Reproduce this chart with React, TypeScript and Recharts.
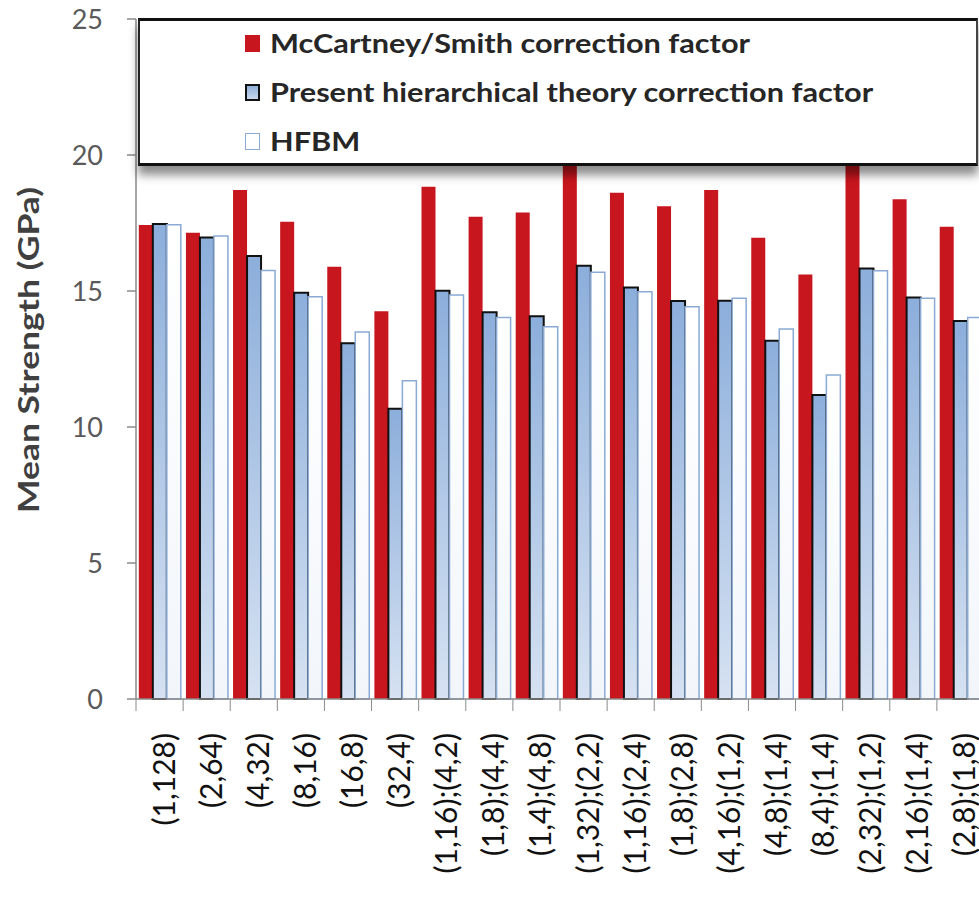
import React from "react";
import { Bar, BarChart, XAxis, YAxis } from "recharts";

// ---------------------------------------------------------------------------
// Data
// ---------------------------------------------------------------------------

const categories = [
  "(1,128)",
  "(2,64)",
  "(4,32)",
  "(8,16)",
  "(16,8)",
  "(32,4)",
  "(1,16);(4,2)",
  "(1,8);(4,4)",
  "(1,4);(4,8)",
  "(1,32);(2,2)",
  "(1,16);(2,4)",
  "(1,8);(2,8)",
  "(4,16);(1,2)",
  "(4,8);(1,4)",
  "(8,4);(1,4)",
  "(2,32);(1,2)",
  "(2,16);(1,4)",
  "(2,8);(1,8)",
];

const mccartney = [
  17.43, 17.14, 18.71, 17.55, 15.89, 14.26, 18.83, 17.73, 17.89, 20.3, 18.61,
  18.12, 18.71, 16.96, 15.61, 20.2, 18.37, 17.36,
];

const present = [
  17.46, 16.97, 16.29, 14.94, 13.08, 10.67, 15.01, 14.22, 14.07, 15.93, 15.13,
  14.63, 14.64, 13.17, 11.18, 15.83, 14.76, 13.9,
];

const hfbm = [
  17.44, 17.02, 15.75, 14.79, 13.49, 11.7, 14.85, 14.03, 13.69, 15.69, 14.97,
  14.42, 14.73, 13.6, 11.91, 15.74, 14.73, 14.03,
];

const yTicks = [0, 5, 10, 15, 20, 25];

const legendLabels = [
  "McCartney/Smith correction factor",
  "Present hierarchical theory correction factor",
  "HFBM",
];

const data = categories.map((c, i) => ({
  name: c,
  mccartney: mccartney[i],
  present: present[i],
  hfbm: hfbm[i],
}));

// ---------------------------------------------------------------------------
// Styling
// ---------------------------------------------------------------------------

const FONT = "Lato, 'Open Sans', sans-serif";
const RED = "#c8161e";
const AXIS = "#8a8a8a";
const BLUE_STROKE = "#8aaad4";

function CategoryTick(props: any) {
  const { x, y, payload } = props;
  const half = payload?.offset ?? 23.55;
  return (
    <g>
      <line x1={x - half} y1={y} x2={x - half} y2={y + 12} stroke={AXIS} strokeWidth={1} />
      <text
        transform={`translate(${x + 3},${y + 34}) rotate(-90)`}
        textAnchor="end"
        dominantBaseline="central"
        fontFamily={FONT}
        fontSize={30}
        fill="#111"
      >
        {payload.value}
      </text>
    </g>
  );
}

function YTitle() {
  return (
    <text
      transform="translate(28,350) rotate(-90)"
      textAnchor="middle"
      dominantBaseline="central"
      fontFamily={FONT}
      fontWeight={700}
      fontSize={28}
      fill="#404040"
      textLength={326}
      lengthAdjust="spacingAndGlyphs"
    >
      Mean Strength (GPa)
    </text>
  );
}

function LegendSwatch({ kind }: { kind: number }) {
  const base: React.CSSProperties = {
    position: "absolute",
    left: 105,
    width: 15,
    height: 17,
    boxSizing: "border-box",
  };
  if (kind === 0) return <div style={{ ...base, background: RED }} />;
  if (kind === 1)
    return (
      <div
        style={{
          ...base,
          background: "linear-gradient(#8fb0d9, #c9d9ee)",
          border: "2px solid #111",
        }}
      />
    );
  return (
    <div style={{ ...base, background: "#fff", border: `1.5px solid ${BLUE_STROKE}` }} />
  );
}

function LegendBox() {
  const rowsY = [25, 74, 123];
  return (
    <div
      style={{
        position: "absolute",
        left: 138,
        top: 18,
        width: 840,
        height: 148,
        boxSizing: "border-box",
        background: "#fff",
        borderTop: "3px solid #111",
        borderBottom: "3px solid #111",
        borderLeft: "2px solid #222",
        borderRight: "2px solid #444",
        boxShadow: "0 9px 9px rgba(0,0,0,0.45)",
        fontFamily: FONT,
      }}
    >
      {legendLabels.map((label, i) => (
        <div key={label} style={{ position: "absolute", left: 0, top: rowsY[i] - 8.5 - 3, height: 17, width: "100%" }}>
          <LegendSwatch kind={i} />
          <div
            style={{
              position: "absolute",
              left: 130,
              top: -8,
              fontSize: 26,
              fontWeight: 700,
              color: "#262626",
              whiteSpace: "nowrap",
              lineHeight: "32px",
              transform: "scaleX(1.18)",
              transformOrigin: "0 50%",
            }}
          >
            {label}
          </div>
        </div>
      ))}
    </div>
  );
}

export default function App() {
  return (
    <div
      style={{
        position: "fixed",
        left: 0,
        top: 0,
        width: 979,
        height: 904,
        overflow: "hidden",
        background: "#fff",
      }}
    >
      <BarChart
        width={990}
        height={904}
        data={data}
        margin={{ top: 19, right: 6, bottom: 0, left: 0 }}
        barCategoryGap="6%"
        barGap={0}
      >
        <defs>
          <linearGradient id="blueFill" x1="0" y1="0" x2="0" y2="1">
            <stop offset="0%" stopColor="#8caedb" />
            <stop offset="100%" stopColor="#d6e2f2" />
          </linearGradient>
          <linearGradient id="whiteFill" x1="0" y1="0" x2="0" y2="1">
            <stop offset="0%" stopColor="#ffffff" />
            <stop offset="100%" stopColor="#f2f6fb" />
          </linearGradient>
        </defs>
        <XAxis
          dataKey="name"
          height={205}
          interval={0}
          tickSize={0}
          tickMargin={0}
          tickLine={false}
          axisLine={{ stroke: AXIS, strokeWidth: 1.5 }}
          tick={<CategoryTick />}
        />
        <YAxis
          width={136}
          domain={[0, 25]}
          ticks={yTicks}
          tickSize={9}
          tickMargin={24}
          axisLine={{ stroke: AXIS, strokeWidth: 1.5 }}
          tickLine={{ stroke: AXIS, strokeWidth: 1.5 }}
          tick={{ fontFamily: FONT, fontSize: 27, fill: "#595959" }}
          label={{ content: () => <YTitle /> }}
        />
        <Bar dataKey="mccartney" fill={RED} isAnimationActive={false} />
        <Bar
          dataKey="present"
          fill="url(#blueFill)"
          stroke="#111"
          strokeWidth={2}
          isAnimationActive={false}
        />
        <Bar
          dataKey="hfbm"
          fill="url(#whiteFill)"
          stroke={BLUE_STROKE}
          strokeWidth={1.5}
          isAnimationActive={false}
        />
      </BarChart>
      <LegendBox />
    </div>
  );
}
